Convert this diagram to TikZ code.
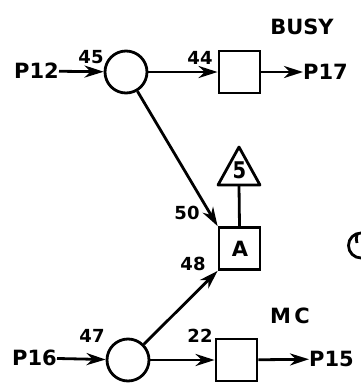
\documentclass[tikz,border=0pt]{standalone}
\usepackage{fontspec}
\setmainfont{DejaVu Sans}
\usetikzlibrary{arrows.meta}
\begin{document}
\begin{tikzpicture}[x=1pt,y=-1pt,
  lw/.style={line width=2.8pt},
  place/.style={draw,lw,circle,minimum size=42pt,inner sep=0pt},
  trans/.style={draw,lw,rectangle,minimum width=41pt,minimum height=42pt,inner sep=0pt},
  lbl/.style={font=\fontsize{21}{21}\selectfont\bfseries,inner sep=0pt},
  num/.style={font=\fontsize{18}{18}\selectfont\bfseries,inner sep=0pt},
  arr/.style={lw,-{Stealth[length=19pt,width=12pt,inset=6pt]}},
  ln/.style={lw}]
\useasboundingbox (0,0) rectangle (360,392);
% top row
\node[lbl,anchor=east] (p12) at (59,71) {P12};
\node[place] (c1) at (126,72) {};
\node[trans] (t1) at (239.5,72) {};
\node[lbl,anchor=west] (p17) at (303,72) {P17};
\node[lbl] (busy) at (302,27) {BUSY};
\node[num] (n45) at (91,57) {45};
\node[num] (n44) at (200,58) {44};
% middle: triangle with 5
\coordinate (tapex) at (239,147);
\coordinate (tleft) at (218,185);
\coordinate (tright) at (260,185);
\coordinate (tbase) at (239,185);
\draw[lw,line join=round] (tapex) -- (tleft) -- (tright) -- cycle;
\node[font=\fontsize{23}{23}\selectfont\bfseries,inner sep=0pt,xscale=0.85] (five) at (239.5,170) {5};
\node[trans] (A) at (239.5,248.5) {};
\node[lbl] (Atext) at (240,249) {A};
\node[num] (n50) at (187,213) {50};
\node[num] (n48) at (193,264) {48};
% bottom row
\node[lbl,anchor=east] (p16) at (57,358) {P16};
\node[place] (c2) at (128,360) {};
\node[trans] (t2) at (236.5,360) {};
\node[lbl,anchor=west] (p15) at (309,359) {P15};
\node[lbl] (mc) at (290,316) {M\,C};
\node[num] (n47) at (92,336) {47};
\node[num] (n22) at (200,336) {22};
% partial element at right edge
\node[draw,lw,circle,minimum size=25pt,inner sep=0pt] (c3) at (361,245.5) {};
\draw[lw] (357,243) arc (160:200:12);
% connectors
\draw[arr] (p12) -- (c1);
\draw[arr] (c1) -- (t1);
\draw[arr] (t1) -- (p17);
\draw[arr] (c1) -- (A.north west);
\draw[ln] (tbase) -- (A.north);
\draw[arr] (p16) -- (c2);
\draw[arr] (c2) -- (t2);
\draw[arr] (t2) -- (p15);
\draw[arr] (c2) -- (A.south west);
\end{tikzpicture}
\end{document}
